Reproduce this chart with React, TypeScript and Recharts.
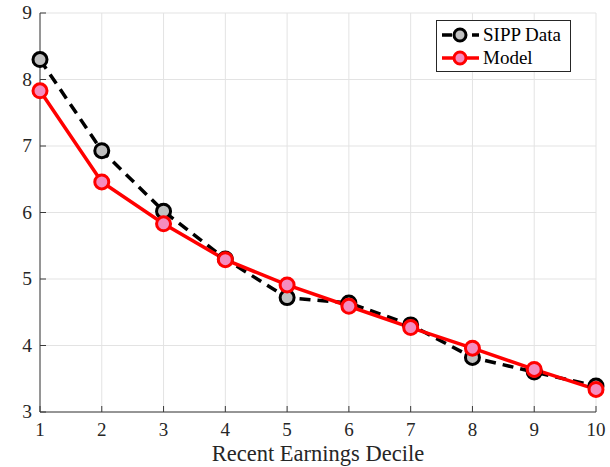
import React from 'react';
import { LineChart, Line, XAxis, YAxis, CartesianGrid, Legend } from 'recharts';

const deciles = [1, 2, 3, 4, 5, 6, 7, 8, 9, 10];
const sippValues = [8.30, 6.93, 6.02, 5.30, 4.72, 4.64, 4.31, 3.82, 3.60, 3.39];
const modelValues = [7.83, 6.46, 5.83, 5.29, 4.91, 4.59, 4.27, 3.96, 3.64, 3.34];
const xTicks = [1, 2, 3, 4, 5, 6, 7, 8, 9, 10];
const yTicks = [3, 4, 5, 6, 7, 8, 9];
const xLabel = 'Recent Earnings Decile';
const sippName = 'SIPP Data';
const modelName = 'Model';

const data = deciles.map((d, i) => ({ decile: d, sipp: sippValues[i], model: modelValues[i] }));

const FONT = '"Liberation Serif", "Times New Roman", serif';
const AXIS = '#3a3a3a';
const TICK_LEN = 6;

const BottomTick = (props: any) => {
  const { x, y, payload } = props;
  return (
    <g>
      <line x1={x} x2={x} y1={y} y2={y - TICK_LEN} stroke={AXIS} strokeWidth={1} />
      <text x={x} y={y + 24} textAnchor="middle" fontFamily={FONT} fontSize={19} fill="#262626">
        {payload.value}
      </text>
    </g>
  );
};

const TopTick = (props: any) => {
  const { x, y } = props;
  return <line x1={x} x2={x} y1={y} y2={y + TICK_LEN} stroke={AXIS} strokeWidth={1} />;
};

const LeftTick = (props: any) => {
  const { x, y, payload } = props;
  return (
    <g>
      <line x1={x} x2={x + TICK_LEN} y1={y} y2={y} stroke={AXIS} strokeWidth={1} />
      <text x={x - 8} y={y + 6} textAnchor="end" fontFamily={FONT} fontSize={19.5} fill="#262626">
        {payload.value}
      </text>
    </g>
  );
};

const RightTick = (props: any) => {
  const { x, y } = props;
  return <line x1={x} x2={x - TICK_LEN} y1={y} y2={y} stroke={AXIS} strokeWidth={1} />;
};

const LegendBox = () => (
  <div
    style={{
      width: 135,
      height: 52,
      border: '1px solid #262626',
      background: '#fff',
      boxSizing: 'border-box',
      fontFamily: FONT,
      fontSize: 19,
      color: '#000',
      paddingTop: 2,
    }}
  >
    <div style={{ display: 'flex', alignItems: 'center', height: 23 }}>
      <svg width={44} height={20}>
        <line x1={5} x2={42} y1={10} y2={10} stroke="#000" strokeWidth={3.5} strokeDasharray="10 5" />
        <circle cx={23} cy={10} r={6} fill="#c0c0c0" stroke="#000" strokeWidth={3} />
      </svg>
      <span style={{ marginLeft: 2 }}>{sippName}</span>
    </div>
    <div style={{ display: 'flex', alignItems: 'center', height: 23 }}>
      <svg width={44} height={20}>
        <line x1={5} x2={42} y1={10} y2={10} stroke="#ff0000" strokeWidth={3.5} />
        <circle cx={23} cy={10} r={6} fill="#f58cbf" stroke="#ff0000" strokeWidth={3} />
      </svg>
      <span style={{ marginLeft: 2 }}>{modelName}</span>
    </div>
  </div>
);

export default function App() {
  return (
    <div style={{ position: 'absolute', left: 0, top: 0, width: 610, height: 467, background: '#fff' }}>
      <LineChart
        width={610}
        height={467}
        data={data}
        margin={{ top: 13, right: 14, left: 0, bottom: 0 }}
      >
        <CartesianGrid xAxisId="b" yAxisId="l" stroke="#e3e3e3" strokeWidth={1} vertical horizontal />
        <XAxis
          xAxisId="b"
          dataKey="decile"
          type="number"
          domain={[1, 10]}
          ticks={xTicks}
          height={55}
          axisLine={{ stroke: AXIS, strokeWidth: 1 }}
          tickLine={false}
          tickSize={0}
          tickMargin={0}
          tick={<BottomTick />}
          interval={0}
          label={{ value: xLabel, position: 'insideBottom', offset: 6, fontFamily: FONT, fontSize: 22.5, fill: '#262626' }}
        />
        <XAxis
          xAxisId="t"
          orientation="top"
          dataKey="decile"
          type="number"
          domain={[1, 10]}
          ticks={xTicks}
          height={0}
          axisLine={{ stroke: AXIS, strokeWidth: 1 }}
          tickLine={false}
          tickSize={0}
          tickMargin={0}
          tick={<TopTick />}
          interval={0}
        />
        <YAxis
          yAxisId="l"
          type="number"
          domain={[3, 9]}
          ticks={yTicks}
          width={40}
          axisLine={{ stroke: AXIS, strokeWidth: 1 }}
          tickLine={false}
          tickSize={0}
          tickMargin={0}
          tick={<LeftTick />}
          interval={0}
        />
        <YAxis
          yAxisId="r"
          orientation="right"
          type="number"
          domain={[3, 9]}
          ticks={yTicks}
          width={0}
          axisLine={{ stroke: AXIS, strokeWidth: 1 }}
          tickLine={false}
          tickSize={0}
          tickMargin={0}
          tick={<RightTick />}
          interval={0}
        />
        <Line
          xAxisId="b"
          yAxisId="l"
          dataKey="sipp"
          name={sippName}
          stroke="#000"
          strokeWidth={3.5}
          strokeDasharray="11 7"
          dot={{ r: 7, fill: '#c0c0c0', stroke: '#000', strokeWidth: 3, strokeDasharray: '' }}
          isAnimationActive={false}
        />
        <Line
          xAxisId="b"
          yAxisId="l"
          dataKey="model"
          name={modelName}
          stroke="#ff0000"
          strokeWidth={3.5}
          dot={{ r: 7, fill: '#f58cbf', stroke: '#ff0000', strokeWidth: 3 }}
          isAnimationActive={false}
        />
        <Legend
          layout="horizontal"
          verticalAlign="middle"
          align="center"
          wrapperStyle={{ left: 436, top: 20, width: 135, height: 52 }}
          content={<LegendBox />}
        />
      </LineChart>
    </div>
  );
}
